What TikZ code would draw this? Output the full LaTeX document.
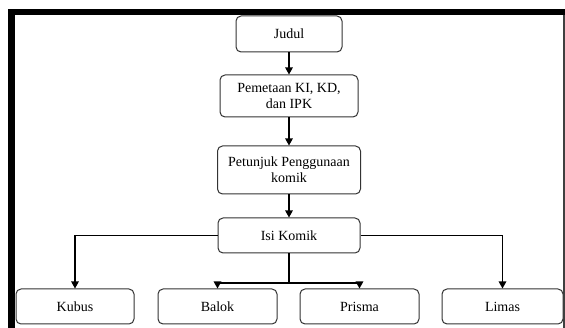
\documentclass[tikz,border=0pt]{standalone}
\usepackage{fontspec}
\setmainfont{Liberation Serif}
\usetikzlibrary{arrows.meta}
\begin{document}
\begin{tikzpicture}[x=1pt,y=-1pt,
  box/.style={draw=black!80, line width=1pt, rounded corners=5pt, fill=white,
    align=center, inner sep=0pt, font=\fontsize{14}{16}\selectfont},
  arr/.style={draw=black, line width=1.2pt, -{Triangle[length=7pt,width=7.5pt]}},
  lin/.style={draw=black, line width=1.2pt}]
\useasboundingbox (0,0) rectangle (565,328);
\fill[white] (0,0) rectangle (565,328);
\fill[black] (8,9) rectangle (565,15);
\fill[black] (8,9) rectangle (15,328);
\draw[black!75, line width=1.5pt] (564,15) -- (564,328);

\node[box, minimum width=106pt, minimum height=36pt] (judul) at (289,34) {Judul};
\node[box, minimum width=138pt, minimum height=42pt] (pemetaan) at (289,96) {Pemetaan KI, KD,\\dan IPK};
\node[box, minimum width=143pt, minimum height=48pt] (petunjuk) at (289,170) {Petunjuk Penggunaan\\komik};
\node[box, minimum width=142pt, minimum height=35pt] (isi) at (289,235.5) {Isi Komik};

\node[box, minimum width=118pt, minimum height=35pt] (kubus) at (75,306.5) {Kubus};
\node[box, minimum width=119pt, minimum height=35pt] (balok) at (217.5,306.5) {Balok};
\node[box, minimum width=119pt, minimum height=35pt] (prisma) at (359.5,306.5) {Prisma};
\node[box, minimum width=121pt, minimum height=35pt] (limas) at (502.5,306.5) {Limas};

\draw[arr] (judul) -- (pemetaan);
\draw[arr] (pemetaan) -- (petunjuk);
\draw[arr] (petunjuk) -- (isi);
\draw[arr] (isi.west) -| (kubus.north);
\draw[arr] (isi.east) -| (limas.north);
\coordinate (br) at (289,283);
\draw[lin] (isi.south) -- (br);
\draw[arr] (br) -| (balok.north);
\draw[arr] (br) -| (prisma.north);
\end{tikzpicture}
\end{document}
